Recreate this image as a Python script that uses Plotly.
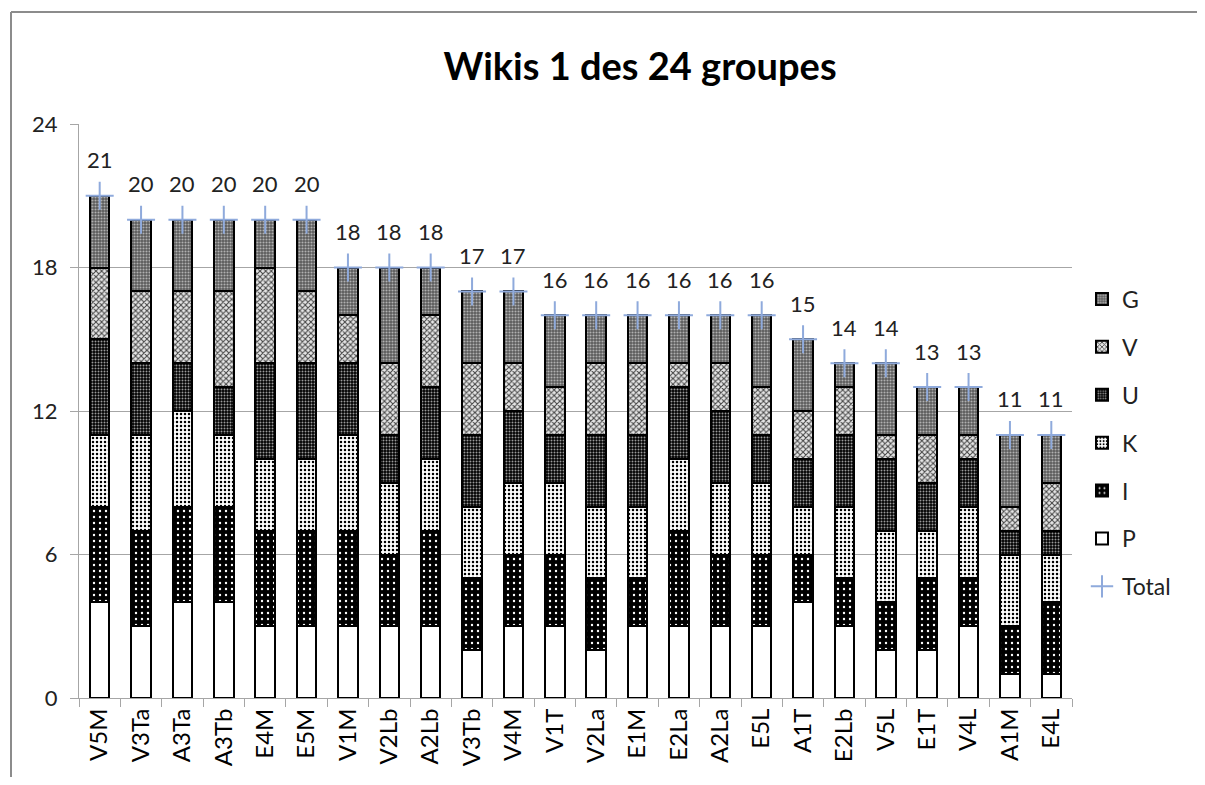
import plotly.graph_objects as go

groups = ["V5M", "V3Ta", "A3Ta", "A3Tb", "E4M", "E5M", "V1M", "V2Lb", "A2Lb", "V3Tb", "V4M", "V1T",
          "V2La", "E1M", "E2La", "A2La", "E5L", "A1T", "E2Lb", "V5L", "E1T", "V4L", "A1M", "E4L"]
P = [4, 3, 4, 4, 3, 3, 3, 3, 3, 2, 3, 3, 2, 3, 3, 3, 3, 4, 3, 2, 2, 3, 1, 1]
I = [4, 4, 4, 4, 4, 4, 4, 3, 4, 3, 3, 3, 3, 2, 4, 3, 3, 2, 2, 2, 3, 2, 2, 3]
K = [3, 4, 4, 3, 3, 3, 4, 3, 3, 3, 3, 3, 3, 3, 3, 3, 3, 2, 3, 3, 2, 3, 3, 2]
U = [4, 3, 2, 2, 4, 4, 3, 2, 3, 3, 3, 2, 3, 3, 3, 3, 2, 2, 3, 3, 2, 2, 1, 1]
V = [3, 3, 3, 4, 4, 3, 2, 3, 3, 3, 2, 2, 3, 3, 1, 2, 2, 2, 2, 1, 2, 1, 1, 2]
G = [3, 3, 3, 3, 2, 3, 2, 4, 2, 3, 3, 3, 2, 2, 2, 2, 3, 3, 1, 3, 2, 2, 3, 2]
Total = [21, 20, 20, 20, 20, 20, 18, 18, 18, 17, 17, 16, 16, 16, 16, 16, 16, 15, 14, 14, 13, 13, 11, 11]
yticks = [0, 6, 12, 18, 24]

FONT = "Lato"
series = [
    ("P", P, dict(bg="#ffffff", fg="#ffffff", shape="", size=4, sol=0.3), 6),
    ("I", I, dict(bg="#000000", fg="#ffffff", shape=".", size=6, sol=0.12), 5),
    ("K", K, dict(bg="#ffffff", fg="#000000", shape=".", size=4, sol=0.3), 4),
    ("U", U, dict(bg="#000000", fg="#9a9a9a", shape=".", size=3, sol=0.35), 3),
    ("V", V, dict(bg="#e6e6e6", fg="#444444", shape="x", size=4, sol=0.45), 2),
    ("G", G, dict(bg="#5a5a5a", fg="#b0b0b0", shape=".", size=3, sol=0.4), 1),
]

# page has an 8px body margin: figure origin sits at page (8, 8)
W, H = 1189, 769
L, R, T, B = 71, 1064, 116, 690  # plot area in figure pixels

fig = go.Figure()
for name, vals, pat, rank in series:
    fig.add_trace(go.Bar(
        x=groups, y=vals, name=name, legendrank=rank, legendgroup=name,
        width=0.47,
        marker=dict(color=pat["bg"], line=dict(color="#000000", width=2),
                    pattern=dict(shape=pat["shape"], bgcolor=pat["bg"], fgcolor=pat["fg"],
                                 size=pat["size"], solidity=pat["sol"], fillmode="replace")),
    ))

fig.add_trace(go.Scatter(
    x=groups, y=Total, name="Total", mode="markers", legendrank=7, legendgroup="Total",
    marker=dict(symbol="cross-thin", size=20, color="#8FAADC",
                line=dict(color="#8FAADC", width=2)),
))

for g, t in zip(groups, Total):
    fig.add_annotation(x=g, y=t, text=str(t), showarrow=False, yshift=36,
                       font=dict(family=FONT, size=22, color="#222222"))

pw, ph = R - L, B - T
bx0, by1 = (3 - L) / pw, (B - 4) / ph
fig.update_layout(
    width=W, height=H,
    barmode="stack",
    paper_bgcolor="white", plot_bgcolor="white",
    margin=dict(l=L, r=W - R, t=T, b=H - B, autoexpand=False),
    title=dict(text="<b>Wikis 1 des 24 groupes</b>", x=632 / W, xanchor="center",
               y=1 - 59 / H, yanchor="middle",
               font=dict(family=FONT, size=38, color="#000000")),
    font=dict(family=FONT, size=22, color="#222222"),
    showlegend=True,
    legend=dict(x=(1074 - L) / pw, xanchor="left", y=(B - 435) / ph, yanchor="middle",
                traceorder="grouped", tracegroupgap=15,
                font=dict(family=FONT, size=23, color="#222222"),
                bgcolor="rgba(0,0,0,0)"),
    shapes=[
        dict(type="line", xref="paper", yref="paper", x0=bx0, x1=(W + 20 - L) / pw, y0=by1, y1=by1,
             line=dict(color="#8c8c8c", width=2), layer="below"),
        dict(type="line", xref="paper", yref="paper", x0=bx0, x1=bx0, y0=by1, y1=(B - H - 20) / ph,
             line=dict(color="#8c8c8c", width=2), layer="below"),
    ],
)
fig.update_xaxes(type="category", range=[-0.5, len(groups) - 0.5], tickangle=-90,
                 showline=True, linecolor="#a6a6a6", linewidth=1,
                 ticks="outside", tickson="boundaries", ticklen=8, tickcolor="#a6a6a6",
                 showgrid=False, tickfont=dict(family=FONT, size=24, color="#000000"))
fig.update_yaxes(range=[0, 24], tickvals=yticks, showline=True, linecolor="#a6a6a6", linewidth=1,
                 ticks="outside", ticklen=8, tickcolor="#a6a6a6", ticklabelstandoff=8,
                 showgrid=True, gridcolor="#a6a6a6", gridwidth=1, zeroline=False,
                 tickfont=dict(family=FONT, size=22, color="#222222"))

fig.write_html("out.html")
